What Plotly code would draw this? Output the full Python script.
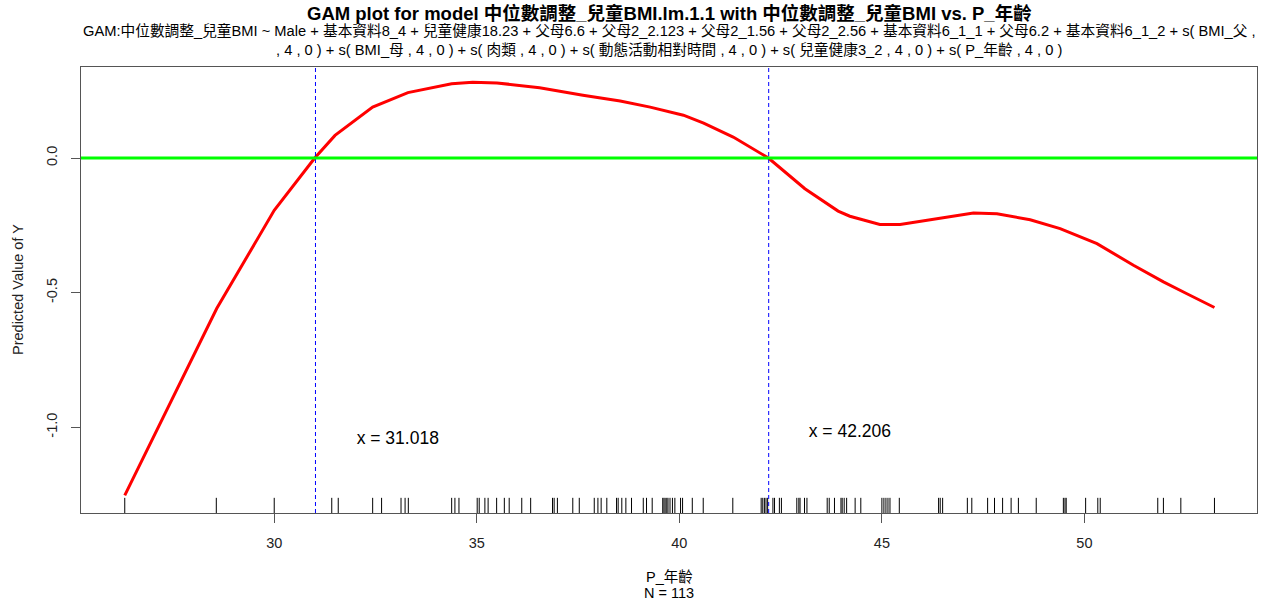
import plotly.graph_objects as go

# ---- data ----
curve_x = [26.31, 28.58, 30.00, 31.00, 31.50, 32.43, 33.30, 34.38, 34.90, 35.50,
           36.55, 37.62, 38.54, 39.28, 40.10, 40.60, 41.33, 42.20, 43.10, 43.92,
           44.21, 44.95, 45.45, 46.44, 47.26, 47.84, 48.66, 49.40, 50.31, 51.21,
           51.95, 52.53, 53.21]
curve_y = [-1.2525, -0.559, -0.194, 0.0, 0.084, 0.189, 0.243, 0.276, 0.281, 0.279,
           0.261, 0.233, 0.212, 0.189, 0.159, 0.130, 0.078, 0.0, -0.114, -0.197,
           -0.216, -0.247, -0.247, -0.225, -0.204, -0.207, -0.229, -0.262, -0.318, -0.398,
           -0.460, -0.504, -0.555]

rug_x = [26.31, 28.57, 30.00, 31.42, 31.58, 32.43, 32.65, 33.13, 33.23, 33.31, 34.38, 34.46,
         34.56, 35.01, 35.06, 35.20, 35.28, 35.49, 35.68, 35.80, 36.11, 36.33, 36.87, 36.91,
         36.99, 37.37, 37.53, 37.90, 37.99, 38.07, 38.21, 38.45, 38.49, 38.58, 38.68, 38.82,
         39.11, 39.19, 39.33, 39.59, 39.62, 39.65, 39.69, 39.72, 39.77, 39.83, 39.89, 40.03,
         40.08, 40.32, 40.59, 41.32, 42.02, 42.06, 42.10, 42.14, 42.18, 42.31, 42.35, 42.47,
         42.52, 42.90, 42.95, 42.98, 43.09, 43.15, 43.65, 43.70, 43.83, 43.99, 44.02, 44.07,
         44.13, 44.34, 44.48, 45.00, 45.05, 45.10, 45.15, 45.20, 45.43, 46.40, 46.44, 46.50,
         47.11, 47.22, 47.61, 47.78, 47.98, 48.19, 48.37, 48.81, 49.48, 49.52, 49.55, 50.03,
         50.33, 50.39, 51.81, 51.95, 52.38, 53.21]

cross_x = [31.018, 42.206]
cross_labels = ["x = 31.018", "x = 42.206"]
label_pos_x = [33.05, 44.21]
label_pos_y = [-1.045, -1.019]
zero_level = 0.0

x_ticks = [30, 35, 40, 45, 50]
y_ticks = [0.0, -0.5, -1.0]
y_tick_text = ["0.0", "-0.5", "-1.0"]

title_text = "GAM plot for model 中位數調整_兒童BMI.lm.1.1 with 中位數調整_兒童BMI vs. P_年齡"
sub1 = ("GAM:中位數調整_兒童BMI ~ Male + 基本資料8_4 + 兒童健康18.23 + 父母6.6 + 父母2_2.123 + "
        "父母2_1.56 + 父母2_2.56 + 基本資料6_1_1 + 父母6.2 + 基本資料6_1_2 + s( BMI_父 ,")
sub2 = (", 4 , 0 ) + s( BMI_母 , 4 , 0 ) + s( 肉類 , 4 , 0 ) + s( 動態活動相對時間 , 4 , 0 ) + "
        "s( 兒童健康3_2 , 4 , 0 ) + s( P_年齡 , 4 , 0 )")

FONT = "Liberation Sans, Arial, Noto Sans CJK TC, sans-serif"

fig = go.Figure()

# curve
fig.add_trace(go.Scatter(x=curve_x, y=curve_y, mode="lines",
                         line=dict(color="#FF0000", width=3), showlegend=False,
                         hoverinfo="skip"))

# rug (on an overlay axis spanning 0..1 of the plot height)
rx, ry = [], []
for v in rug_x:
    rx += [v, v, None]
    ry += [0, 0.034, None]
fig.add_trace(go.Scatter(x=rx, y=ry, yaxis="y2", mode="lines",
                         line=dict(color="black", width=1), showlegend=False,
                         hoverinfo="skip"))

# zero reference line
fig.add_hline(y=zero_level, line=dict(color="#00FF00", width=3), layer="above")

# vertical crossing lines (full plot height on overlay axis)
vx, vy = [], []
for cx in cross_x:
    vx += [cx, cx, None]
    vy += [0, 1, None]
fig.add_trace(go.Scatter(x=vx, y=vy, yaxis="y2", mode="lines",
                         line=dict(color="#0000FF", width=1, dash="4px,3px"),
                         showlegend=False, hoverinfo="skip"))

# labels for crossings
fig.add_trace(go.Scatter(x=label_pos_x, y=label_pos_y, mode="text", text=cross_labels,
                         textfont=dict(family=FONT, size=17.5, color="black"),
                         showlegend=False, hoverinfo="skip"))

fig.update_layout(
    width=1280, height=607,
    margin=dict(l=81, r=23, t=67, b=94),
    paper_bgcolor="white", plot_bgcolor="white",
    font=dict(family=FONT, color="black"),
    xaxis=dict(range=[25.23, 54.26], tickvals=x_ticks, ticks="outside", ticklen=9,
               tickcolor="#555", showline=True, linecolor="#555", linewidth=1, mirror=True,
               showgrid=False, zeroline=False, ticklabelstandoff=8,
               tickfont=dict(size=14.5, color="#222")),
    yaxis=dict(range=[-1.318, 0.338], tickvals=y_ticks, ticktext=y_tick_text,
               ticks="outside", ticklen=9, tickcolor="#555", tickangle=-90,
               showline=True, linecolor="#555", linewidth=1, mirror=True,
               showgrid=False, zeroline=False, ticklabelstandoff=8,
               tickfont=dict(size=14.5, color="#222")),
    yaxis2=dict(range=[0, 1], overlaying="y", visible=False, fixedrange=True),
    showlegend=False,
)

ann = [
    dict(text="<b>" + title_text + "</b>", x=0.5, y=1.121, size=18.5),
    dict(text=sub1, x=0.5, y=1.081, size=14.7),
    dict(text=sub2, x=0.5, y=1.040, size=14.7),
    dict(text="P_年齡", x=0.5, y=-0.1435, size=14.5),
    dict(text="N = 113", x=0.5, y=-0.179, size=14.5),
]
for a in ann:
    fig.add_annotation(text=a["text"], xref="paper", yref="paper", x=a["x"], y=a["y"],
                       xanchor="center", yanchor="middle", showarrow=False,
                       font=dict(family=FONT, size=a["size"], color="black"))

fig.add_annotation(text="Predicted Value of Y", xref="paper", yref="paper",
                   x=(18 - 81) / 1176, y=0.5, xanchor="center", yanchor="middle",
                   textangle=-90, showarrow=False,
                   font=dict(family=FONT, size=14.5, color="#222"))

fig.write_html("out.html")
